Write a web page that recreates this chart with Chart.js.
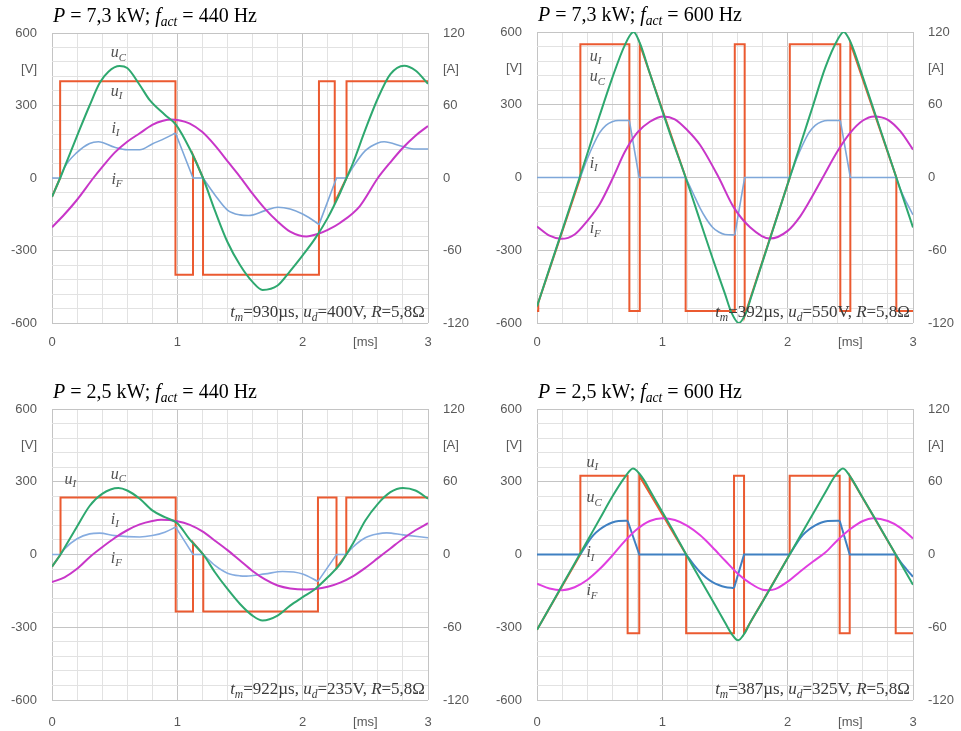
<!DOCTYPE html>
<html>
<head>
<meta charset="utf-8">
<script src="https://cdn.jsdelivr.net/npm/chart.js@4.4.1/dist/chart.umd.min.js"></script>
<style>
  body { margin: 0; background: #fff; width: 961px; height: 731px; position: relative; overflow: hidden; }
  canvas { position: absolute; }
</style>
</head>
<body>
<canvas id="p1" width="480" height="360" style="left:0;top:0"></canvas>
<canvas id="p2" width="476" height="360" style="left:485px;top:0"></canvas>
<canvas id="p3" width="480" height="361" style="left:0;top:376px"></canvas>
<canvas id="p4" width="476" height="361" style="left:485px;top:376px"></canvas>
<script>
// axis labels
const xLabelVals = [0, 1, 2, 2.5, 3];
const xLabelText = ['0', '1', '2', '[ms]', '3'];
const vLabelVals = [-600, -300, 0, 300, 450, 600];
const vLabelText = ['-600', '-300', '0', '300', '[V]', '600'];
const aLabelVals = [-120, -60, 0, 60, 90, 120];
const aLabelText = ['-120', '-60', '0', '60', '[A]', '120'];

// P = 7,3 kW, 440 Hz  (t in ms, u in V, i in A)
const p1UcT = [0, 0.065, 0.1, 0.22, 0.3, 0.38, 0.45, 0.54, 0.6, 0.7, 0.78, 0.9, 0.99, 1.1, 1.205, 1.3, 1.4, 1.5, 1.6, 1.68, 1.8, 1.9, 2.0, 2.1, 2.2, 2.3, 2.35, 2.4, 2.5, 2.6, 2.7, 2.81, 2.9, 3.0];
const p1Uc = [-78, 0, 45, 200, 300, 393, 440, 463, 455, 385, 322, 262, 220, 120, 0, -135, -265, -360, -430, -463, -445, -385, -320, -250, -165, -60, 0, 60, 200, 330, 430, 465, 445, 390];
const p1UiT = [0, 0.065, 0.065, 0.985, 0.985, 1.125, 1.125, 1.205, 1.205, 2.13, 2.13, 2.256, 2.256, 2.35, 2.35, 3];
const p1Ui = [-78, 0, 400, 400, -400, -400, 95, 0, -400, -400, 400, 400, -100, 0, 400, 400];
const p1IiT = [0, 0.065, 0.1, 0.2, 0.3, 0.37, 0.5, 0.6, 0.7, 0.8, 0.9, 0.985, 1.125, 1.205, 1.3, 1.4, 1.5, 1.57, 1.7, 1.8, 1.9, 2.0, 2.1, 2.13, 2.27, 2.35, 2.4, 2.5, 2.6, 2.65, 2.8, 2.9, 3.0];
const p1Ii = [0, 0, 8.8, 21.2, 28.6, 30, 25.4, 23.4, 23.4, 28.2, 32.8, 37.2, 0, 0, -14, -26.5, -30.5, -31, -27, -24.2, -25.6, -29.8, -36.2, -38.6, 0, 0, 8.8, 22.6, 29, 30, 26, 24, 24];
const p1IiSmooth = [[1, 11], [13, 23], [25, 32]];
const p1IfT = [0, 0.1, 0.2, 0.33, 0.4, 0.5, 0.6, 0.7, 0.8, 0.886, 0.95, 1.0, 1.1, 1.2, 1.3, 1.418, 1.5, 1.6, 1.7, 1.8, 1.9, 2.03, 2.13, 2.2, 2.3, 2.455, 2.6, 2.7, 2.8, 2.9, 3.0];
const p1If = [-40.8, -30, -18, 0, 9, 21, 30, 37, 44, 47.4, 48.4, 48, 45, 38, 27, 11.6, 1, -13, -25.6, -36, -44.4, -48.4, -46, -43, -37, -23.4, 0, 13, 25, 35, 43];

// P = 7,3 kW, 600 Hz
const p2UcT = [0, 0.1, 0.2, 0.3, 0.34, 0.4, 0.5, 0.6, 0.7, 0.77, 0.82, 0.9, 1.0, 1.06, 1.186, 1.3, 1.4, 1.5, 1.55, 1.61, 1.67, 1.7, 1.8, 1.9, 2.0, 2.017, 2.1, 2.2, 2.3, 2.4, 2.447, 2.5, 2.6, 2.7, 2.8, 2.867, 2.9, 3.0];
const p2Uc = [-532, -375, -220, -63, 0, 96, 256, 410, 545, 600, 555, 430, 275, 183, 0, -177, -332, -480, -555, -600, -555, -507, -347, -187, -27, 0, 133, 293, 453, 570, 600, 560, 414, 259, 104, 0, -51, -206];
const p2UiT = [0, 0.01, 0.01, 0.346, 0.346, 0.737, 0.737, 0.82, 0.82, 1.186, 1.186, 1.578, 1.578, 1.657, 1.657, 2.017, 2.017, 2.42, 2.42, 2.5, 2.5, 2.867, 2.867, 3];
const p2Ui = [-550, -550, -516, 0, 550, 550, -550, -550, 550, 0, -550, -550, 550, 550, -570, 0, 550, 550, -550, -550, 555, 0, -550, -550];
const p2IiT = [0, 0.346, 0.4, 0.45, 0.5, 0.55, 0.6, 0.65, 0.737, 0.815, 1.186, 1.25, 1.3, 1.35, 1.4, 1.45, 1.5, 1.578, 1.657, 2.017, 2.07, 2.12, 2.17, 2.22, 2.27, 2.32, 2.42, 2.5, 2.867, 2.9, 2.95, 3.0];
const p2Ii = [0, 0, 15, 27, 37, 43, 46, 47, 47, 0, 0, -14, -25, -34, -41, -45, -47, -47.4, 0, 0, 15, 27, 37, 43, 46, 47, 47, 0, 0, -10, -21, -30.8];
const p2IiSmooth = [[1, 8], [10, 17], [19, 26], [28, 31]];
const p2IfT = [0, 0.1, 0.194, 0.3, 0.4, 0.5, 0.607, 0.7, 0.8, 0.9, 1.01, 1.1, 1.2, 1.3, 1.45, 1.565, 1.7, 1.857, 2.0, 2.1, 2.177, 2.28, 2.4, 2.5, 2.6, 2.69, 2.8, 2.9, 3.0];
const p2If = [-40.4, -48, -50.6, -47, -36, -22, 0, 21, 37, 46, 50.4, 48, 39, 27, 0, -23.8, -41, -50.4, -44, -32, -19, 0, 22, 37, 47, 50.4, 47.6, 38, 23];

// P = 2,5 kW, 440 Hz
const p3UcT = [0, 0.068, 0.1, 0.2, 0.3, 0.4, 0.53, 0.6, 0.7, 0.8, 0.9, 1.0, 1.1, 1.207, 1.3, 1.4, 1.5, 1.6, 1.68, 1.8, 1.9, 2.0, 2.1, 2.2, 2.3, 2.348, 2.4, 2.5, 2.6, 2.7, 2.8, 2.9, 3.0];
const p3Uc = [-50, 0, 28, 115, 200, 250, 274, 264, 230, 182, 154, 129, 61, 0, -73, -142, -204, -252, -272, -252, -211, -176, -142, -94, -39, 0, 44, 140, 209, 257, 274, 264, 230];
const p3UiT = [0, 0.068, 0.068, 0.987, 0.987, 1.125, 1.125, 1.207, 1.207, 2.122, 2.122, 2.27, 2.27, 2.348, 2.348, 3];
const p3Ui = [-50, 0, 235, 235, -235, -235, 50, 0, -235, -235, 235, 235, -55, 0, 235, 235];
const p3IiT = [0, 0.068, 0.1, 0.2, 0.3, 0.38, 0.5, 0.7, 0.8, 0.9, 0.987, 1.125, 1.207, 1.3, 1.4, 1.5, 1.55, 1.7, 1.84, 2.0, 2.122, 2.27, 2.348, 2.4, 2.5, 2.6, 2.67, 2.8, 3.0];
const p3Ii = [0, 0, 4.6, 13, 17, 17.6, 15.6, 14.4, 15.6, 18.4, 22.6, 0, 0, -9, -15.4, -17.6, -17.8, -16, -14, -16, -22.2, 0, 0, 6, 13.8, 17, 17.8, 16.2, 13.8];
const p3IiSmooth = [[1, 10], [12, 20], [22, 28]];
const p3IfT = [0, 0.1, 0.2, 0.3, 0.4, 0.5, 0.6, 0.7, 0.8, 0.87, 1.0, 1.1, 1.2, 1.3, 1.4, 1.5, 1.6, 1.7, 1.8, 1.9, 2.03, 2.1, 2.2, 2.3, 2.4, 2.5, 2.6, 2.7, 2.8, 2.9, 3.0];
const p3If = [-22.8, -18.8, -11.8, -2.2, 6, 13.6, 20, 24.8, 27.6, 28.6, 27.4, 24.4, 19, 11.4, 3.6, -5, -13.6, -20.6, -25.6, -28, -28.8, -28.4, -26.6, -23.2, -18, -11, -3, 5, 13, 20, 25.8];

// P = 2,5 kW, 600 Hz
const p4UcT = [0, 0.1, 0.2, 0.3, 0.4, 0.5, 0.6, 0.7, 0.766, 0.85, 0.9, 1.0, 1.1, 1.19, 1.3, 1.4, 1.5, 1.55, 1.604, 1.66, 1.7, 1.8, 1.9, 2.016, 2.1, 2.2, 2.3, 2.38, 2.441, 2.5, 2.6, 2.7, 2.8, 2.862, 3.0];
const p4Uc = [-310, -220, -128, -37, 55, 146, 238, 318, 355, 310, 265, 175, 85, 0, -100, -190, -280, -325, -354, -322, -282, -195, -105, 0, 76, 166, 256, 325, 355, 320, 233, 145, 56, 0, -125];
const p4UiT = [0, 0.346, 0.346, 0.723, 0.723, 0.816, 0.816, 1.19, 1.19, 1.572, 1.572, 1.652, 1.652, 2.016, 2.016, 2.415, 2.415, 2.495, 2.495, 2.862, 2.862, 3];
const p4Ui = [-310, 0, 325, 325, -325, -325, 325, 0, -325, -325, 325, 325, -325, 0, 325, 325, -325, -325, 325, 0, -325, -325];
const p4IiT = [0, 0.346, 0.4, 0.45, 0.5, 0.55, 0.6, 0.65, 0.723, 0.816, 1.19, 1.25, 1.3, 1.35, 1.4, 1.45, 1.5, 1.572, 1.652, 2.016, 2.07, 2.12, 2.17, 2.22, 2.27, 2.32, 2.415, 2.495, 2.862, 2.9, 2.95, 3.0];
const p4Ii = [0, 0, 9, 16, 20.6, 24, 26.4, 27.6, 27.8, 0, 0, -8.4, -14.4, -19.2, -22.8, -25.2, -26.8, -27.6, 0, 0, 9, 16, 20.6, 24, 26.4, 27.6, 27.8, 0, 0, -6, -12.4, -18.4];
const p4IiSmooth = [[1, 8], [10, 17], [19, 26], [28, 31]];
const p4IfT = [0, 0.1, 0.2, 0.3, 0.4, 0.5, 0.6, 0.7, 0.8, 0.9, 1.0, 1.1, 1.2, 1.3, 1.4, 1.5, 1.6, 1.7, 1.8, 1.85, 1.9, 2.0, 2.1, 2.2, 2.3, 2.4, 2.5, 2.6, 2.68, 2.8, 2.9, 3.0];
const p4If = [-24, -28, -29.4, -27, -21, -12, -1, 11, 21, 27.6, 29.8, 28.4, 23.6, 16, 6, -5, -15.6, -23.6, -29, -29.4, -28.6, -22.4, -14, -6, 1.6, 12, 21, 27.6, 29.8, 27.6, 22, 13.2];

const SERIF = '"Liberation Serif", "Times New Roman", serif';
const SANS = '"Liberation Sans", Arial, sans-serif';
const GRID_MAJOR = '#c4c4c4';
const GRID_MINOR = '#e2e2e2';
const RED = '#eb5a30';
const GREEN = '#2ea86f';

const pts = (t, v) => t.map((x, i) => ({x, y: v[i]}));

// split a series into curved pieces (ranges) and straight pieces, null breaks between
const splitPieces = (t, v, ranges) => {
  const smooth = [];
  const straight = [];
  const isSmooth = i => ranges.some(r => i >= r[0] && i + 1 <= r[1]);
  for (let i = 0; i < t.length - 1; i++) {
    const target = isSmooth(i) ? smooth : straight;
    const last = target[target.length - 1];
    if (!last || last.x !== t[i] || last.y !== v[i]) {
      if (last) target.push({x: t[i], y: null});
      target.push({x: t[i], y: v[i]});
    }
    target.push({x: t[i + 1], y: v[i + 1]});
  }
  return {smooth, straight};
};

const makeTicks = (min, max, step, extra) => {
  const out = [];
  for (let i = 0; min + i * step <= max + 1e-9; i++) out.push(+(min + i * step).toFixed(4));
  extra.forEach(v => { if (!out.includes(v)) out.push(v); });
  return out.sort((a, b) => a - b).map(value => ({value}));
};

const gridColor = (majorStep, hidden) => ctx => {
  const v = ctx.tick ? ctx.tick.value : 0;
  if (hidden.includes(v)) return 'rgba(0,0,0,0)';
  return Math.abs(v / majorStep - Math.round(v / majorStep)) < 1e-6 ? GRID_MAJOR : GRID_MINOR;
};

// text with italic letters and subscripts
const drawRich = (ctx, parts, x, y, size, color, align) => {
  let w = 0;
  const info = parts.map(p => {
    const sub = p[1] === 's';
    const font = (p[1] ? 'italic ' : '') + (sub ? size * 0.68 : size) + 'px ' + SERIF;
    ctx.font = font;
    const pw = ctx.measureText(p[0]).width;
    w += pw;
    return {font, pw, sub};
  });
  let cx = align === 'right' ? x - w : x;
  ctx.fillStyle = color;
  ctx.textAlign = 'left';
  ctx.textBaseline = 'alphabetic';
  parts.forEach((p, i) => {
    ctx.font = info[i].font;
    ctx.fillText(p[0], cx, info[i].sub ? y + size * 0.22 : y);
    cx += info[i].pw;
  });
};

const panelText = {
  id: 'panelText',
  afterDatasetsDraw(chart, args, opts) {
    const {ctx, chartArea: a, scales} = chart;
    ctx.save();
    opts.labels.forEach(l => {
      drawRich(ctx, [[l[0], 'i'], [l[1], 's']], scales.x.getPixelForValue(l[2]), scales.y.getPixelForValue(l[3]), 16, '#505050', 'left');
    });
    drawRich(ctx, opts.note, a.right - 3, a.bottom - 6, 17, '#3a3a3a', 'right');
    drawRich(ctx, opts.title, a.left + 1, a.top - 11, 20, '#000', 'left');
    ctx.restore();
  },
};

const makeChart = (id, p) => {
  const line = (label, data, color, width, axis, smooth) => ({
    label,
    data,
    yAxisID: axis,
    borderColor: color,
    borderWidth: width,
    pointRadius: 0,
    fill: false,
    spanGaps: false,
    cubicInterpolationMode: smooth ? 'monotone' : 'default',
    tension: 0,
  });
  const blue = splitPieces(p.iiT, p.ii, p.iiSmooth);
  return new Chart(document.getElementById(id), {
    type: 'line',
    data: {
      datasets: [
        line('uC', pts(p.ucT, p.uc), GREEN, 2, 'y', true),
        line('iF', pts(p.ifT, p.iF), p.magenta, 2, 'y2', true),
        line('iI', blue.smooth, p.blue, p.blueWidth, 'y2', true),
        line('iI', blue.straight, p.blue, p.blueWidth, 'y2', false),
        line('uI', pts(p.uiT, p.ui), RED, 2, 'y', false),
      ],
    },
    plugins: [panelText],
    options: {
      responsive: false,
      animation: false,
      events: [],
      layout: { padding: { top: p.top, left: 0, right: 0, bottom: 0 } },
      plugins: {
        legend: { display: false },
        tooltip: { enabled: false },
        panelText: { title: p.title, note: p.note, labels: p.labels },
      },
      scales: {
        x: {
          type: 'linear',
          min: 0,
          max: 3,
          afterBuildTicks: s => { s.ticks = makeTicks(0, 3, 0.2, [2.5]); },
          afterFit: s => { s.height = 37; },
          border: { display: false },
          grid: { color: gridColor(1, [2.5]), drawTicks: false, lineWidth: 1 },
          ticks: {
            autoSkip: false,
            maxRotation: 0,
            padding: p.xPad,
            color: '#595959',
            font: { family: SANS, size: 13 },
            callback: v => { const i = xLabelVals.indexOf(v); return i >= 0 ? xLabelText[i] : ''; },
          },
        },
        y: {
          position: 'left',
          min: -600,
          max: 600,
          afterBuildTicks: s => { s.ticks = makeTicks(-600, 600, 60, [450]); },
          afterFit: s => { s.width = 52; },
          border: { display: false },
          grid: { color: gridColor(300, [450]), drawTicks: false, lineWidth: 1 },
          ticks: {
            autoSkip: false,
            padding: 15,
            color: '#595959',
            font: { family: SANS, size: 13 },
            callback: v => { const i = vLabelVals.indexOf(v); return i >= 0 ? vLabelText[i] : ''; },
          },
        },
        y2: {
          position: 'right',
          min: -120,
          max: 120,
          afterBuildTicks: s => { s.ticks = makeTicks(-120, 120, 60, [90]); },
          afterFit: s => { s.width = p.rightWidth; },
          border: { display: false },
          grid: { display: false, drawTicks: false },
          ticks: {
            autoSkip: false,
            padding: 15,
            color: '#595959',
            font: { family: SANS, size: 13 },
            callback: v => { const i = aLabelVals.indexOf(v); return i >= 0 ? aLabelText[i] : ''; },
          },
        },
      },
    },
  });
};

makeChart('p1', {
  ucT: p1UcT, uc: p1Uc, uiT: p1UiT, ui: p1Ui, iiT: p1IiT, ii: p1Ii, iiSmooth: p1IiSmooth, ifT: p1IfT, iF: p1If,
  blue: '#7ea7d9', blueWidth: 1.6, magenta: '#c836c8', top: 33, rightWidth: 52, xPad: 12,
  title: [['P', 'i'], [' = 7,3 kW; ', ''], ['f', 'i'], ['act', 's'], [' = 440 Hz', '']],
  note: [['t', 'i'], ['m', 's'], ['=930µs, ', ''], ['u', 'i'], ['d', 's'], ['=400V, ', ''], ['R', 'i'], ['=5,8Ω', '']],
  labels: [['u', 'C', 0.468, 500], ['u', 'I', 0.468, 341], ['i', 'I', 0.474, 188], ['i', 'F', 0.474, -24]],
});
makeChart('p2', {
  ucT: p2UcT, uc: p2Uc, uiT: p2UiT, ui: p2Ui, iiT: p2IiT, ii: p2Ii, iiSmooth: p2IiSmooth, ifT: p2IfT, iF: p2If,
  blue: '#7ea7d9', blueWidth: 1.6, magenta: '#c836c8', top: 32, rightWidth: 48, xPad: 12,
  title: [['P', 'i'], [' = 7,3 kW; ', ''], ['f', 'i'], ['act', 's'], [' = 600 Hz', '']],
  note: [['t', 'i'], ['m', 's'], ['=392µs, ', ''], ['u', 'i'], ['d', 's'], ['=550V, ', ''], ['R', 'i'], ['=5,8Ω', '']],
  labels: [['u', 'I', 0.42, 482], ['u', 'C', 0.42, 397], ['i', 'I', 0.42, 40], ['i', 'F', 0.42, -230]],
});
makeChart('p3', {
  ucT: p3UcT, uc: p3Uc, uiT: p3UiT, ui: p3Ui, iiT: p3IiT, ii: p3Ii, iiSmooth: p3IiSmooth, ifT: p3IfT, iF: p3If,
  blue: '#86ace0', blueWidth: 1.6, magenta: '#c836c8', top: 33, rightWidth: 52, xPad: 15,
  title: [['P', 'i'], [' = 2,5 kW; ', ''], ['f', 'i'], ['act', 's'], [' = 440 Hz', '']],
  note: [['t', 'i'], ['m', 's'], ['=922µs, ', ''], ['u', 'i'], ['d', 's'], ['=235V, ', ''], ['R', 'i'], ['=5,8Ω', '']],
  labels: [['u', 'I', 0.1, 292], ['u', 'C', 0.469, 312], ['i', 'I', 0.469, 126], ['i', 'F', 0.469, -33]],
});
makeChart('p4', {
  ucT: p4UcT, uc: p4Uc, uiT: p4UiT, ui: p4Ui, iiT: p4IiT, ii: p4Ii, iiSmooth: p4IiSmooth, ifT: p4IfT, iF: p4If,
  blue: '#3f80c2', blueWidth: 2, magenta: '#e03ee0', top: 33, rightWidth: 48, xPad: 15,
  title: [['P', 'i'], [' = 2,5 kW; ', ''], ['f', 'i'], ['act', 's'], [' = 600 Hz', '']],
  note: [['t', 'i'], ['m', 's'], ['=387µs, ', ''], ['u', 'i'], ['d', 's'], ['=325V, ', ''], ['R', 'i'], ['=5,8Ω', '']],
  labels: [['u', 'I', 0.394, 361], ['u', 'C', 0.394, 216], ['i', 'I', 0.394, -11], ['i', 'F', 0.394, -167]],
});
</script>
</body>
</html>
